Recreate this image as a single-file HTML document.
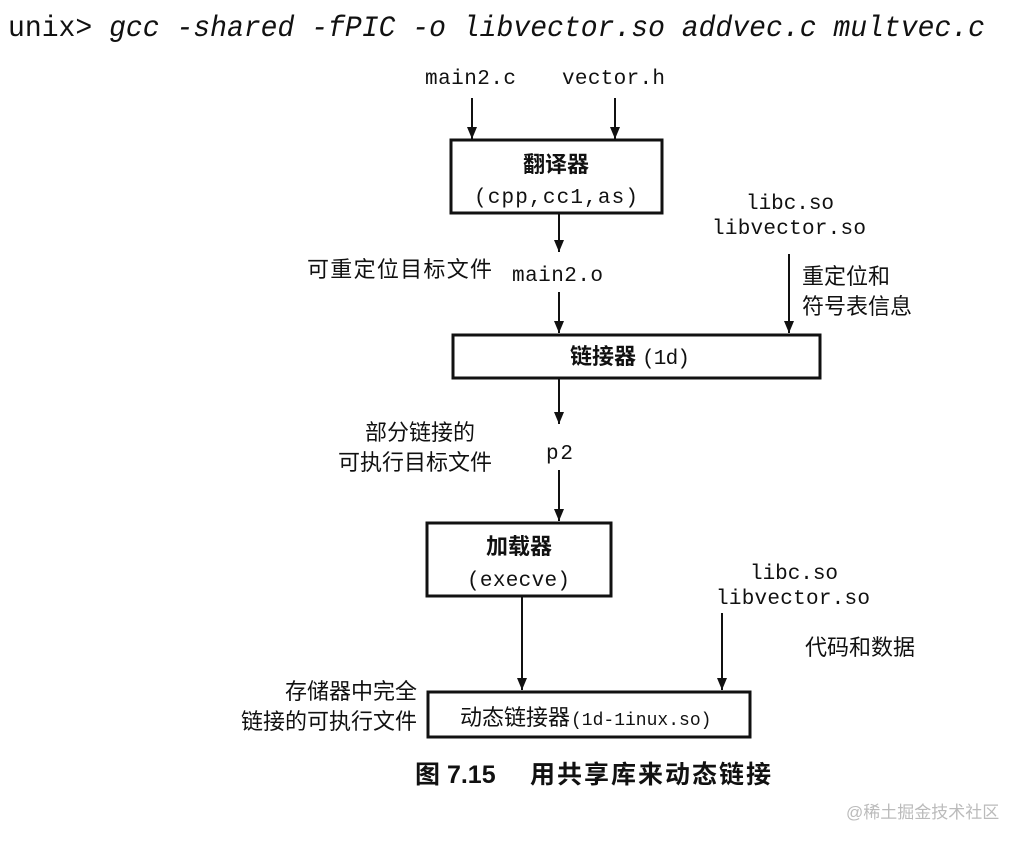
<!DOCTYPE html>
<html><head><meta charset="utf-8"><style>
html,body{margin:0;padding:0;background:#fff;}
svg{display:block}
.m{font-family:"Liberation Mono",monospace;font-size:21px;fill:#111}
.c{font-family:"Liberation Sans","Noto Sans CJK SC",sans-serif;font-size:22px;fill:#111}
.b{font-weight:bold}
</style></head><body>
<svg width="1031" height="845" viewBox="0 0 1031 845" xmlns="http://www.w3.org/2000/svg">
<defs><marker id="a" markerWidth="12" markerHeight="10" refX="12" refY="5" orient="auto" markerUnits="userSpaceOnUse"><path d="M0,0 L12,5 L0,10 z" fill="#111"/></marker></defs>
<text x="8" y="36" class="m" style="font-size:30px" textLength="977" lengthAdjust="spacingAndGlyphs">unix&gt; <tspan font-style="italic">gcc -shared -fPIC -o libvector.so addvec.c multvec.c</tspan></text>
<g stroke="#111" stroke-width="2" fill="none">
<rect x="451" y="140" width="211" height="73" stroke-width="3"/>
<rect x="453" y="335" width="367" height="43" stroke-width="3"/>
<rect x="427" y="523" width="184" height="73" stroke-width="3"/>
<rect x="428" y="692" width="322" height="45" stroke-width="3"/>
<line x1="472" y1="98" x2="472" y2="139" marker-end="url(#a)"/>
<line x1="615" y1="98" x2="615" y2="139" marker-end="url(#a)"/>
<line x1="559" y1="214" x2="559" y2="252" marker-end="url(#a)"/>
<line x1="559" y1="292" x2="559" y2="333" marker-end="url(#a)"/>
<line x1="789" y1="254" x2="789" y2="333" marker-end="url(#a)"/>
<line x1="559" y1="379" x2="559" y2="424" marker-end="url(#a)"/>
<line x1="559" y1="470" x2="559" y2="521" marker-end="url(#a)"/>
<line x1="522" y1="597" x2="522" y2="690" marker-end="url(#a)"/>
<line x1="722" y1="613" x2="722" y2="690" marker-end="url(#a)"/>
</g>
<text x="425" y="84" class="m" textLength="91">main2.c</text>
<text x="562" y="84" class="m" textLength="103">vector.h</text>
<text x="556" y="172" class="c b" text-anchor="middle">翻译器</text>
<text x="474" y="203" class="m" textLength="164">(cpp,cc1,as)</text>
<text x="746" y="209" class="m" textLength="88">libc.so</text>
<text x="712" y="234" class="m" textLength="154">libvector.so</text>
<text x="307" y="277" class="c" textLength="185">可重定位目标文件</text>
<text x="512" y="281" class="m" textLength="91">main2.o</text>
<text x="802" y="284" class="c">重定位和</text>
<text x="802" y="314" class="c">符号表信息</text>
<text x="570" y="364" class="c b">链接器</text>
<text x="642" y="364" class="m" textLength="48">(1d)</text>
<text x="475" y="440" class="c" text-anchor="end">部分链接的</text>
<text x="492" y="470" class="c" text-anchor="end">可执行目标文件</text>
<text x="546" y="459" class="m" textLength="27">p2</text>
<text x="519" y="554" class="c b" text-anchor="middle">加载器</text>
<text x="467" y="586" class="m" textLength="103">(execve)</text>
<text x="750" y="579" class="m" textLength="88">libc.so</text>
<text x="716" y="604" class="m" textLength="154">libvector.so</text>
<text x="805" y="655" class="c">代码和数据</text>
<text x="417" y="699" class="c" text-anchor="end">存储器中完全</text>
<text x="417" y="729" class="c" text-anchor="end">链接的可执行文件</text>
<text x="460" y="725" class="c">动态链接器</text>
<text x="571" y="725" class="m" style="font-size:18px">(1d-1inux.so)</text>
<text x="415" y="783" class="c b" style="font-size:25px">图 7.15</text>
<text x="530" y="783" class="c b" style="font-size:25px;letter-spacing:2px">用共享库来动态链接</text>
<text x="846" y="818" class="c" style="font-size:17px;fill:#bbb">@稀土掘金技术社区</text>
</svg>
</body></html>
